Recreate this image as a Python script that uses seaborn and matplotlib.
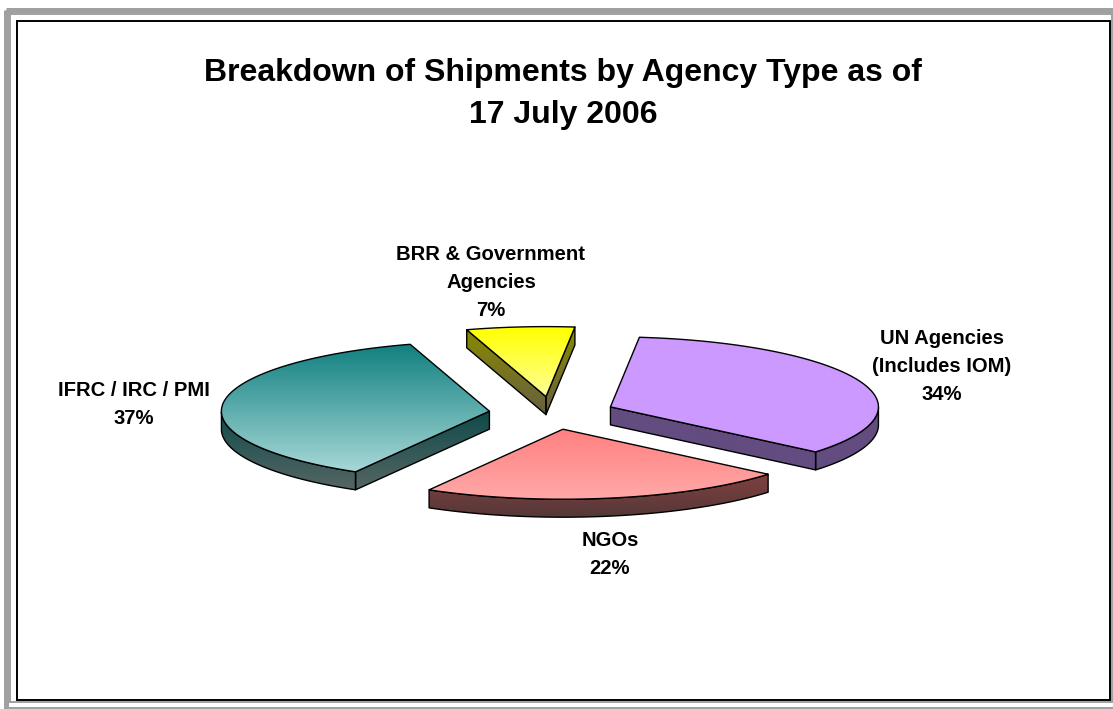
import numpy as np
import matplotlib
matplotlib.use('Agg')
import matplotlib.pyplot as plt
from matplotlib.patches import Polygon, Rectangle
import seaborn as sns

# Data
categories = ['UN Agencies\n(Includes IOM)', 'NGOs', 'IFRC / IRC / PMI', 'BRR & Government\nAgencies']
shares = [34.4, 22.2, 36.9, 6.5]
share_labels = ['34%', '22%', '37%', '7%']

# Top colours (top -> bottom of slice), side colours (top -> bottom)
top_colors = [('#cc99ff', '#cc99ff'), ('#ff8080', '#ffa8a8'), ('#10807f', '#a8d8d8'), ('#ffff00', '#ffff99')]
side_colors = [('#634c80', '#634c80'), ('#804040', '#553838'), ('#0f4a4a', '#566664'), ('#8a8a00', '#665f40')]

# Label placement (pixels)
label_pos = [(942, 366), (610, 554), (134, 404), (491, 283)]

# Pie geometry (pixels)
CENTER = (552, 413)
RX, RY = 268, 70
DEPTH = 18
EXPLODE = 0.235
START = 83.8

sns.set_theme(style='white')
plt.rcParams['font.family'] = ['Liberation Sans', 'DejaVu Sans']

fig, ax = plt.subplots(figsize=(11.13, 7.09), dpi=100)
fig.subplots_adjust(0, 0, 1, 1)
ax.set_xlim(0, 1113)
ax.set_ylim(709, 0)
ax.axis('off')


def ellipse_pt(deg, cx, cy):
    rad = np.radians(deg)
    return np.column_stack([cx + RX * np.cos(rad), cy - RY * np.sin(rad)])


def shaded_face(points, colors, ymin, ymax, z):
    # vertical gradient clipped to the polygon, with a black outline
    cmap = sns.blend_palette(colors, n_colors=256, as_cmap=True)
    grad = np.linspace(0, 1, 256).reshape(-1, 1)
    x0, x1 = points[:, 0].min() - 2, points[:, 0].max() + 2
    img = ax.imshow(grad, cmap=cmap, extent=(x0, x1, ymax, ymin), aspect='auto', zorder=z, interpolation='bilinear')
    poly = Polygon(points, closed=True, fc='none', ec='black', lw=1.0, zorder=z + 0.5, joinstyle='round')
    ax.add_patch(poly)
    img.set_clip_path(poly)


# Frame
gray = '#a0a0a0'
ax.add_patch(Rectangle((5.5, 9.5), 1120, 699, fc='none', ec=gray, lw=3.6, zorder=1))
ax.add_patch(Rectangle((10, 14), 1102, 688, fc='none', ec=gray, lw=1.4, zorder=1))
ax.add_patch(Rectangle((17, 21), 1093, 679, fc='white', ec='black', lw=1.4, zorder=2))

# Slices
angle = START
for i, share in enumerate(shares):
    a0 = angle
    a1 = angle - share * 3.6
    angle = a1
    mid = np.radians((a0 + a1) / 2)
    cx = CENTER[0] + EXPLODE * RX * np.cos(mid)
    cy = CENTER[1] - EXPLODE * RY * np.sin(mid)
    apex = np.array([[cx, cy]])
    degs = np.linspace(a0, a1, 120)
    arc = ellipse_pt(degs, cx, cy)
    outline = np.vstack([apex, arc])
    down = np.array([0, DEPTH])

    side_faces = []
    # straight sides: visible when the outward normal points down the screen
    for p, q, inner in [(apex[0], arc[0], arc[-1]), (arc[-1], apex[0], arc[0])]:
        e = q - p
        n = np.array([e[1], -e[0]])
        if np.dot(n, inner - p) > 0:
            n = -n
        if n[1] > 0:
            side_faces.append(np.array([p, q, q + down, p + down]))
    # rim: only the part of the arc on the near half of the ellipse
    near = np.sin(np.radians(degs)) <= 0
    if near.any():
        rim = arc[near]
        side_faces.append(np.vstack([rim, (rim + down)[::-1]]))

    # side gradient runs over what is visible of the sides
    all_side = np.vstack(side_faces)
    z = 3 + i * 0.01 + 3 * (np.sin(mid) < 0)
    for face in side_faces:
        shaded_face(face, side_colors[i], all_side[:, 1].min(), all_side[:, 1].max(), z)
    shaded_face(outline, top_colors[i], outline[:, 1].min(), outline[:, 1].max(), z + 1)

    ax.text(label_pos[i][0], label_pos[i][1], f'{categories[i]}\n{share_labels[i]}', ha='center', va='center',
            fontsize=14.6, fontweight='bold', color='black', linespacing=1.6, zorder=10)

ax.set_xlim(0, 1113)
ax.set_ylim(709, 0)

ax.text(563, 94, 'Breakdown of Shipments by Agency Type as of\n17 July 2006', ha='center', va='center',
        fontsize=23, fontweight='bold', color='black', linespacing=1.52, zorder=10)

plt.savefig('out.png', dpi=100)
